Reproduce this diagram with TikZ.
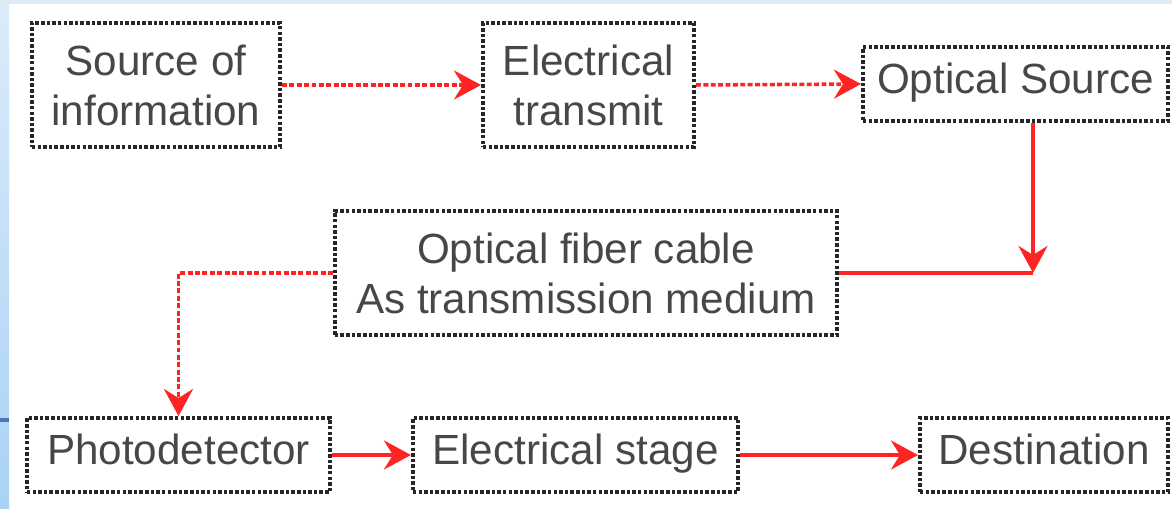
\documentclass[tikz,border=0pt]{standalone}
\usepackage{fontspec}
\setmainfont{Liberation Sans}
\usetikzlibrary{arrows.meta}

\definecolor{sigred}{HTML}{FF2424}
\definecolor{txtgray}{HTML}{474747}
\definecolor{slideblue}{HTML}{A9D2F5}
\definecolor{slidepale}{HTML}{DCEBFA}
\definecolor{slidedark}{HTML}{4A78B8}

\begin{document}
\begin{tikzpicture}[
    x=0.01cm, y=-0.01cm,
    font=\fontsize{12}{14.2}\selectfont,
    % All blocks share the dotted dark frame
    block/.style={draw=black!85, dash pattern=on 1pt off 0.6pt, line width=1.1pt,
                  fill=white, text=txtgray, align=center, inner sep=0pt},
    % Size variants
    tallblock/.style={block, minimum height=1.24cm},
    flatblock/.style={block, minimum height=0.74cm,
                      text height=0.72em, text depth=0.2em},
    % Arrows
    arr/.style={-{Stealth[length=0.27cm, width=0.29cm, inset=0.09cm]},
                draw=sigred, line width=1pt},
    darr/.style={arr, dash pattern=on 1.4pt off 0.7pt},
    lnk/.style={draw=sigred, line width=1pt},
]

% 1px of the slide = 0.01cm, origin top-left, y grows downward
\useasboundingbox (0,0) rectangle (1172,509);

%% ── Slide background edges ──
\shade[top color=slidepale, bottom color=slideblue] (0,0) rectangle (9,509);
\fill[slidepale] (9,0) rectangle (1172,4);
\fill[slidedark] (0,418) rectangle (9,422);

%% ── Row 1: transmitter  y = 85 ──
\node[tallblock, minimum width=2.48cm] (src)  at (156, 85)   {Source of\\information};
\node[tallblock, minimum width=2.11cm] (etx)  at (588.5, 85) {Electrical\\transmit};
\node[flatblock, minimum width=3.05cm] (osrc) at (1015.5, 84) {Optical Source};

%% ── Row 2: channel  y = 273 ──
\node[tallblock, minimum width=5.02cm] (fib)  at (586, 273)  {Optical fiber cable\\As transmission medium};

%% ── Row 3: receiver  y = 455 ──
\node[flatblock, minimum width=3.03cm] (pd)   at (178.5, 455) {Photodetector};
\node[flatblock, minimum width=3.25cm] (est)  at (575.5, 455) {Electrical stage};
\node[flatblock, minimum width=2.48cm] (dst)  at (1044, 455)  {Destination};

\coordinate (drop) at (1033, 273);

%% ── Transmitter chain ──
\draw[darr] (src.east) -- (etx.west);
\draw[darr] (etx.east) -- (osrc.west);

%% ── Into and out of the fiber ──
\draw[arr] (osrc.south -| drop) -- (drop);
\draw[lnk] (fib.east) -- (drop);
\draw[darr] (fib.west) -| (pd.north);

%% ── Receiver chain ──
\draw[arr] (pd.east) -- (est.west);
\draw[arr] (est.east) -- (dst.west);

\end{tikzpicture}
\end{document}
